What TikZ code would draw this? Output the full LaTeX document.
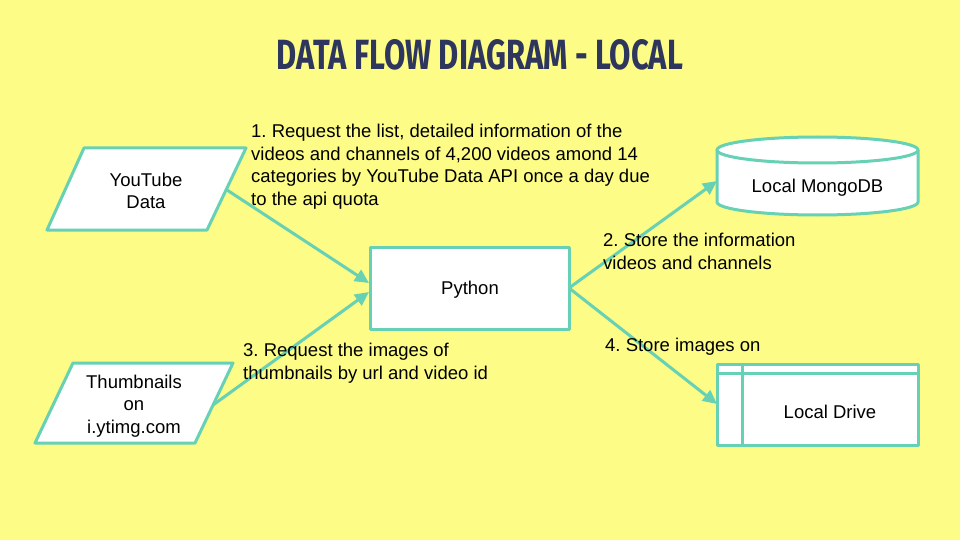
\documentclass[tikz,border=0pt]{standalone}
\usepackage{fontspec}
\setmainfont{Liberation Sans}
\newfontfamily\titlefont{Fira Sans}
\usetikzlibrary{arrows.meta}
\definecolor{bgy}{RGB}{252,252,134}
\definecolor{teal}{RGB}{102,209,181}
\definecolor{navy}{RGB}{46,54,94}
\frenchspacing
\begin{document}
\begin{tikzpicture}[x=1pt,y=-1pt,
  shapeline/.style={draw=teal,line width=3pt,fill=white,line join=round},
  flow/.style={draw=teal,line width=3pt,-{Triangle[length=14pt,width=13pt]}},
  lbl/.style={font=\fontsize{18.5}{22.5}\selectfont,text=black,align=left,anchor=north west,inner sep=0pt},
  ctext/.style={font=\fontsize{18.5}{22.5}\selectfont,text=black,align=center,inner sep=0pt}]
\fill[bgy] (0,0) rectangle (960,540);
\useasboundingbox (0,0) rectangle (960,540);
% title
\node[text=navy,inner sep=0pt,anchor=base] (title) at (480,70) {\resizebox{406pt}{30pt}{\titlefont\bfseries DATA FLOW DIAGRAM - LOCAL}};
% YouTube Data parallelogram
\path[shapeline] (84,148) -- (246,148) -- (207,230) -- (47,230) -- cycle;
\coordinate (ytout) at (227,190);
\node[ctext] (yt) at (146,191) {YouTube\\Data};
% Thumbnails parallelogram
\path[shapeline] (73,363) -- (233,363) -- (195,443) -- (35,443) -- cycle;
\coordinate (thout) at (213,405);
\node[ctext] (th) at (134,406) {Thumbnails\\on\\i.ytimg.com};
% Python
\node[shapeline,minimum width=199pt,minimum height=82pt,inner sep=0pt] (py) at (469.5,288) {};
\node[ctext] (pytext) at (470,290) {Python};
\coordinate (pyin1) at (369,283);
\coordinate (pyin2) at (369,292);
\coordinate (pyout) at (569,288);
% MongoDB cylinder
\path[shapeline] (717,150) -- (717,202) arc[start angle=180,end angle=0,x radius=100.5,y radius=13] -- (918,150);
\path[shapeline] (817.5,150) ellipse[x radius=100.5,y radius=13];
\node[ctext] (mongo) at (817.5,187.5) {Local MongoDB};
\coordinate (mongoin) at (717,181);
% Local Drive
\path[shapeline] (717,364) rectangle (918,445);
\draw[teal,line width=3pt] (717,373.5) -- (918,373.5) (742,364) -- (742,445);
\node[ctext] (drive) at (830,411.5) {Local Drive};
\coordinate (drivein) at (717,404);
% arrows
\draw[flow] (ytout) -- (pyin1);
\draw[flow] (thout) -- (pyin2);
\draw[flow] (pyout) -- (mongoin);
\draw[flow] (pyout) -- (drivein);
% labels
\node[lbl] (l1) at (251,124) {1. Request the list, detailed information of the\\videos and channels of 4,200 videos amond 14\\categories by YouTube Data API once a day due\\to the api quota};
\node[lbl] (l2) at (603,233) {2. Store the information\\videos and channels};
\node[lbl] (l3) at (243,343) {3. Request the images of\\thumbnails by url and video id};
\node[lbl] (l4) at (605,338) {4. Store images on};
\end{tikzpicture}
\end{document}
